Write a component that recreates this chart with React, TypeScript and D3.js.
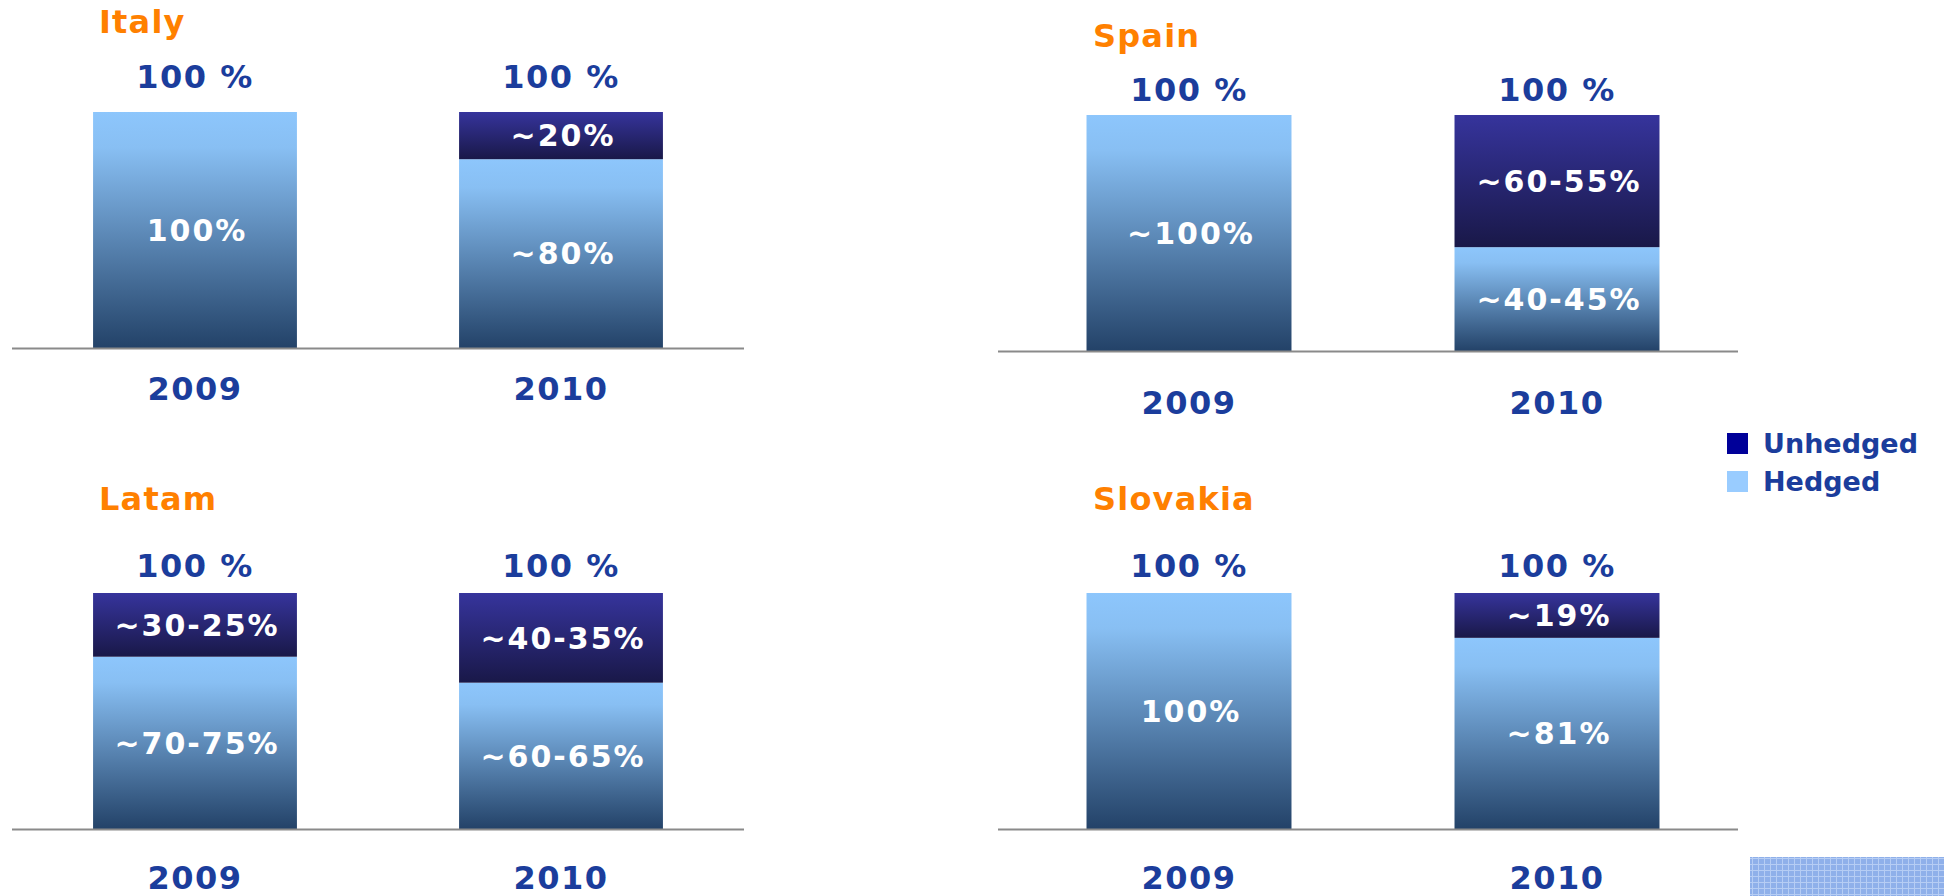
import React, { useEffect, useRef } from 'react';
import * as d3 from 'd3';

const regions = ['Italy', 'Spain', 'Latam', 'Slovakia'];
const years = ['2009', '2010'];
const seriesKeys = ['hedged', 'unhedged'];
const hedged = [[100, 80], [100, 44], [73, 62], [100, 81]];
const unhedged = [[0, 20], [0, 56], [27, 38], [0, 19]];
const hedgedLabels = [['100%', '~80%'], ['~100%', '~40-45%'], ['~70-75%', '~60-65%'], ['100%', '~81%']];
const unhedgedLabels = [['', '~20%'], ['', '~60-55%'], ['~30-25%', '~40-35%'], ['', '~19%']];
const legendLabels = ['Unhedged', 'Hedged'];
const legendKeys = ['unhedged', 'hedged'];

const W = 1944;
const H = 896;
const FONT = '"DejaVu Sans", Verdana, sans-serif';
const BLUE_TEXT = '#1b3d9c';
const ORANGE = '#ff8000';

// where each of the four small charts sits on the page
const panels = [
  { titleX: 99, titleY: 33, top: 112, base: 348, band: [12, 744], axis: [12, 744], totalY: 88, yearY: 400 },
  { titleX: 1093, titleY: 47, top: 115, base: 351, band: [1005, 1741], axis: [998, 1738], totalY: 101, yearY: 414 },
  { titleX: 99, titleY: 510, top: 593, base: 829, band: [12, 744], axis: [12, 744], totalY: 577, yearY: 889 },
  { titleX: 1093, titleY: 510, top: 593, base: 829, band: [1005, 1741], axis: [998, 1738], totalY: 577, yearY: 889 },
];

const App: React.FC = () => {
  const svgRef = useRef<SVGSVGElement>(null);

  useEffect(() => {
    const svg = d3.select(svgRef.current);
    svg.selectAll('*').remove();

    // Gradients for the bar segments
    const defs = svg.append('defs');
    const gradStops: Record<string, [number, string][]> = {
      hedged: [[0, '#8dc6fc'], [0.15, '#88bff3'], [1, '#234268']],
      unhedged: [[0, '#36349c'], [1, '#191848']],
    };
    Object.keys(gradStops).forEach(key => {
      const lg = defs.append('linearGradient')
        .attr('id', `grad-${key}`)
        .attr('x1', 0).attr('y1', 0).attr('x2', 0).attr('y2', 1);
      gradStops[key].forEach(([o, c]) => {
        lg.append('stop').attr('offset', o).attr('stop-color', c);
      });
    });

    // little grid pattern for the corner decoration
    const pat = defs.append('pattern')
      .attr('id', 'grid')
      .attr('width', 6)
      .attr('height', 6)
      .attr('patternUnits', 'userSpaceOnUse');
    pat.append('rect').attr('width', 6).attr('height', 6).attr('fill', '#8fb0ea');
    pat.append('path')
      .attr('d', 'M0 0.5H6M0.5 0V6')
      .attr('stroke', '#b6cdf4')
      .attr('stroke-width', 1);

    regions.forEach((region, i) => {
      const p = panels[i];
      const rows = years.map((year, j) => ({ year, hedged: hedged[i][j], unhedged: unhedged[i][j] }));
      const stacked = d3.stack<any>().keys(seriesKeys)(rows);

      const x = d3.scaleBand<string>()
        .domain(years)
        .range(p.band as [number, number])
        .paddingInner(0.443)
        .paddingOuter(0.2215);
      const y = d3.scaleLinear().domain([0, 100]).range([p.base, p.top]);

      const g = svg.append('g').attr('class', `panel-${region}`);

      // Title
      g.append('text')
        .attr('x', p.titleX)
        .attr('y', p.titleY)
        .attr('font-family', FONT)
        .attr('font-size', 32)
        .attr('font-weight', 'bold')
        .attr('letter-spacing', 1.2)
        .attr('fill', ORANGE)
        .text(region);

      // Bars
      const layers = g.selectAll('.layer')
        .data(stacked)
        .enter()
        .append('g')
        .attr('class', 'layer')
        .attr('fill', d => `url(#grad-${d.key})`);

      layers.selectAll('rect')
        .data(d => d.filter(s => s[1] > s[0]))
        .enter()
        .append('rect')
        .attr('x', d => x(d.data.year) || 0)
        .attr('y', d => y(d[1]))
        .attr('width', x.bandwidth())
        .attr('height', d => y(d[0]) - y(d[1]));

      // Segment labels
      stacked.forEach(layer => {
        const labels = layer.key === 'hedged' ? hedgedLabels[i] : unhedgedLabels[i];
        layer.forEach((s, j) => {
          if (s[1] <= s[0] || !labels[j]) return;
          g.append('text')
            .attr('x', (x(s.data.year) || 0) + x.bandwidth() / 2 + 2)
            .attr('y', (y(s[0]) + y(s[1])) / 2)
            .attr('dy', '0.36em')
            .attr('text-anchor', 'middle')
            .attr('font-family', FONT)
            .attr('font-size', 30)
            .attr('font-weight', 'bold')
            .attr('letter-spacing', 2)
            .attr('fill', '#ffffff')
            .text(labels[j]);
        });
      });

      // Totals above the bars
      g.selectAll('.total')
        .data(rows)
        .enter()
        .append('text')
        .attr('class', 'total')
        .attr('x', d => (x(d.year) || 0) + x.bandwidth() / 2)
        .attr('y', p.totalY)
        .attr('text-anchor', 'middle')
        .attr('font-family', FONT)
        .attr('font-size', 32)
        .attr('font-weight', 'bold')
        .attr('letter-spacing', 1.5)
        .attr('fill', BLUE_TEXT)
        .text(d => `${d.hedged + d.unhedged} %`);

      // Base line
      g.append('line')
        .attr('x1', p.axis[0])
        .attr('x2', p.axis[1])
        .attr('y1', p.base + 0.5)
        .attr('y2', p.base + 0.5)
        .attr('stroke', '#8a8a8a')
        .attr('stroke-width', 2);

      // Year labels
      const xAxis = d3.axisBottom(x).tickSize(0);
      const ax = g.append('g')
        .attr('transform', `translate(0,${p.base})`)
        .call(xAxis);
      ax.select('.domain').remove();
      ax.selectAll('text')
        .attr('y', p.yearY - p.base)
        .attr('dy', null)
        .attr('font-family', FONT)
        .attr('font-size', 32)
        .attr('font-weight', 'bold')
        .attr('letter-spacing', 1.5)
        .attr('fill', BLUE_TEXT);
    });

    // Legend
    const legendColors: Record<string, string> = { unhedged: '#000099', hedged: '#99ccff' };
    const legend = svg.append('g').attr('transform', 'translate(1727,433)');
    legendKeys.forEach((key, k) => {
      const row = legend.append('g').attr('transform', `translate(0,${k * 38})`);
      row.append('rect')
        .attr('width', 21)
        .attr('height', 21)
        .attr('fill', legendColors[key]);
      row.append('text')
        .attr('x', 36)
        .attr('y', 20)
        .attr('font-family', FONT)
        .attr('font-size', 27)
        .attr('font-weight', 'bold')
        .attr('fill', BLUE_TEXT)
        .text(legendLabels[k]);
    });

    // corner decoration
    svg.append('rect')
      .attr('x', 1750)
      .attr('y', 857)
      .attr('width', 194)
      .attr('height', 39)
      .attr('fill', 'url(#grid)');
  }, []);

  return (
    <svg
      ref={svgRef}
      width={W}
      height={H}
      style={{ position: 'absolute', left: 0, top: 0, background: '#ffffff' }}
    />
  );
};

export default App;
